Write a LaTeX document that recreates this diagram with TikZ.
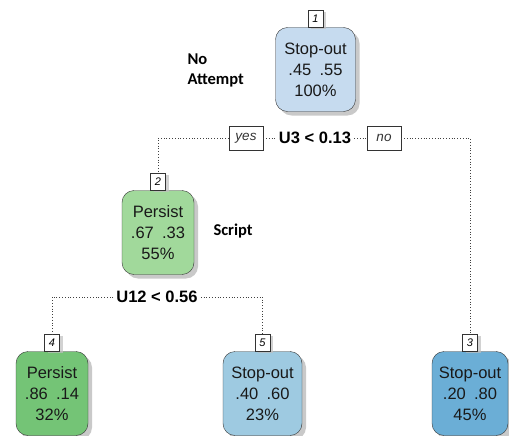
\documentclass[tikz,border=0pt]{standalone}
\usepackage{fontspec}
\setmainfont{Liberation Sans}
\newfontfamily\notefont{Carlito}
\usetikzlibrary{shadows}

\definecolor{blueA}{RGB}{198,219,239}
\definecolor{blueB}{RGB}{158,202,225}
\definecolor{blueC}{RGB}{107,174,214}
\definecolor{greenA}{RGB}{161,217,155}
\definecolor{greenB}{RGB}{116,196,118}

\begin{document}
\begin{tikzpicture}[
  x=1pt, y=-1pt,
  leaf/.style={draw=black!80, rounded corners=12pt, align=center,
    minimum width=76pt, minimum height=84pt, inner sep=3pt,
    text=black!90, font=\fontsize{16.5}{21}\selectfont,
    drop shadow={shadow xshift=4pt, shadow yshift=-4pt, fill=black!30, opacity=.7}},
  numbox/.style={draw=black!80, fill=white, anchor=south, inner sep=1pt,
    minimum width=15pt, minimum height=17pt, font=\itshape\fontsize{11}{11}\selectfont,
    drop shadow={shadow xshift=3pt, shadow yshift=-2pt, fill=black!25, opacity=.7}},
  answer/.style={draw=black!80, fill=white, inner sep=2pt, minimum width=34pt,
    minimum height=24pt, text=black!80, font=\itshape\fontsize{13.5}{13.5}\selectfont},
  split/.style={inner sep=3pt, font=\bfseries\fontsize{16.5}{16.5}\selectfont},
  note/.style={anchor=west, align=left, font=\notefont\bfseries\fontsize{16.5}{20}\selectfont},
  edge/.style={draw=black!75, dotted, line width=.8pt}
]
  \useasboundingbox (0,0) rectangle (509,436);

  % root and first split
  \node[leaf, fill=blueA, minimum width=80pt] (root) at (315.5,69.5) {Stop-out\\.45\enspace.55\\100\%};
  \node[numbox] (n1num) at (root.north) {1};
  \node[note] (noatt) at (184,70) {No\\Attempt};

  \node[split] (split1) at (315,138) {U3 < 0.13};
  \node[answer] (yes) at (246,138) {yes};
  \node[answer] (no) at (384,138) {no};

  % left branch
  \node[leaf, fill=greenA, minimum width=72pt] (n2) at (158,232.5) {Persist\\.67\enspace.33\\55\%};
  \node[numbox] (n2num) at (n2.north) {2};
  \node[note] (script) at (210,231) {Script};

  \node[split] (split2) at (157,297) {U12 < 0.56};

  % leaves
  \node[leaf, fill=greenB, minimum width=72pt] (n4) at (52,393.5) {Persist\\.86\enspace.14\\32\%};
  \node[numbox] (n4num) at (n4.north) {4};

  \node[leaf, fill=blueB, minimum width=79pt] (n5) at (262.5,393.5) {Stop-out\\.40\enspace.60\\23\%};
  \node[numbox] (n5num) at (n5.north) {5};

  \node[leaf, fill=blueC] (n3) at (470,393.5) {Stop-out\\.20\enspace.80\\45\%};
  \node[numbox] (n3num) at (n3.north) {3};

  % dotted branches
  \draw[edge] (yes.west) -| (n2num.north);
  \draw[edge] (yes.east) -- (split1.west);
  \draw[edge] (split1.east) -- (no.west);
  \draw[edge] (no.east) -| (n3num.north);
  \draw[edge] (split2.west) -| (n4num.north);
  \draw[edge] (split2.east) -| (n5num.north);
\end{tikzpicture}
\end{document}
